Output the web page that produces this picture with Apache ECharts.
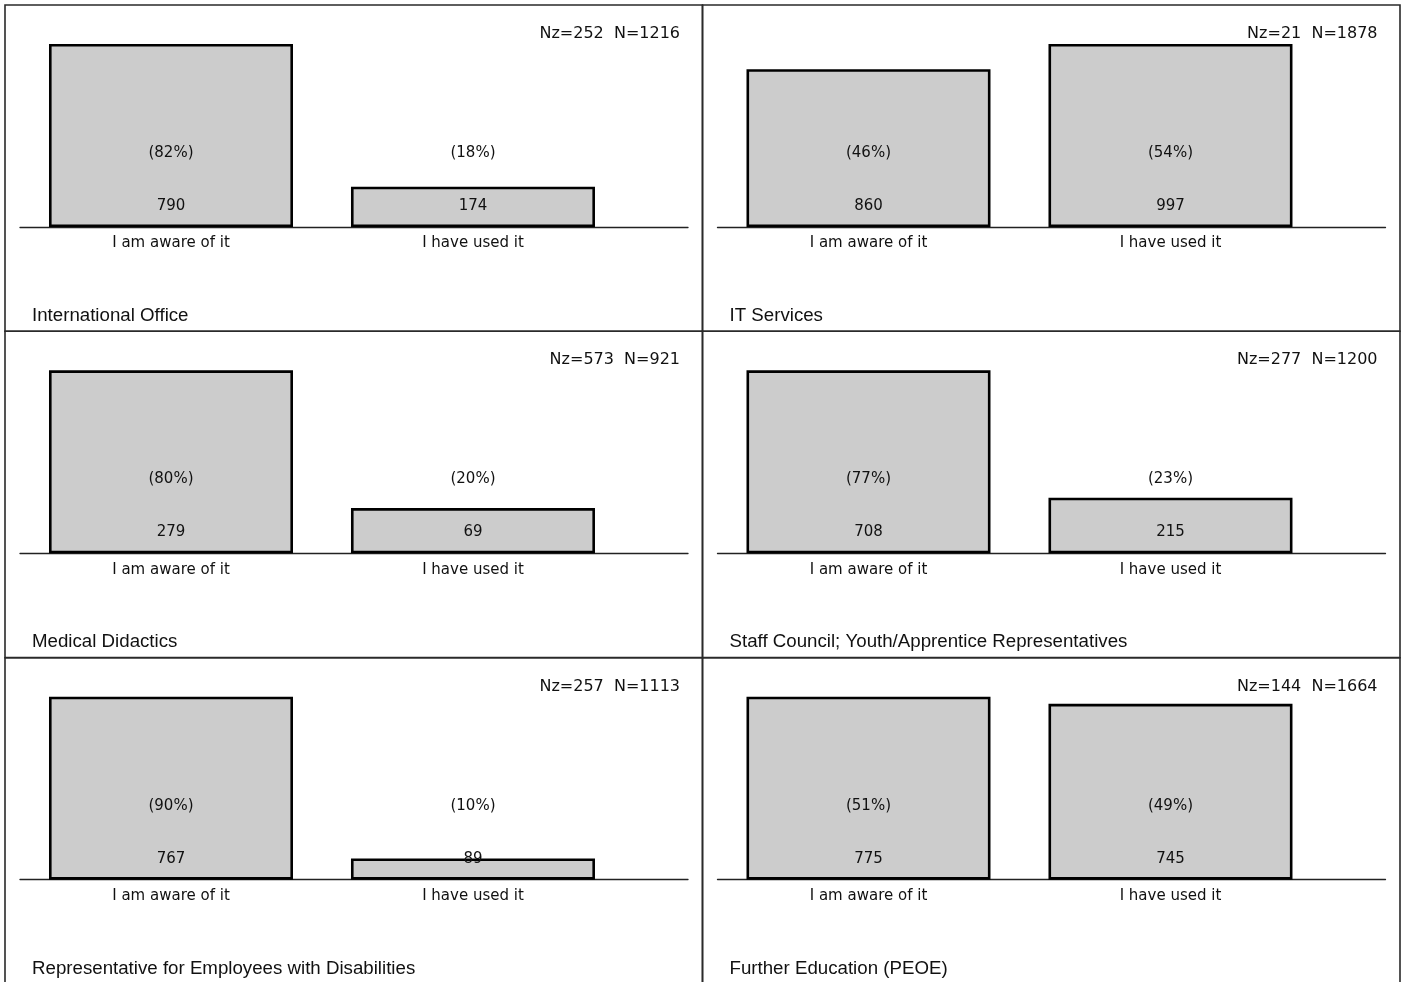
<!DOCTYPE html>
<html>
<head>
<meta charset="utf-8">
<style>
html,body{margin:0;padding:0;background:#fff;}
#chart{width:1404px;height:982px;}
</style>
<script src="https://cdn.jsdelivr.net/npm/echarts@6/dist/echarts.min.js"></script>
</head>
<body>
<div id="chart"></div>
<script>
// ---- data ----
var categories = ["I am aware of it", "I have used it"];
var panelNames = [
  "International Office",
  "IT Services",
  "Medical Didactics",
  "Staff Council; Youth/Apprentice Representatives",
  "Representative for Employees with Disabilities",
  "Further Education (PEOE)"
];
var countsIntl = [790, 174];
var countsIT = [860, 997];
var countsMed = [279, 69];
var countsStaff = [708, 215];
var countsDisab = [767, 89];
var countsFurther = [775, 745];
var pctIntl = [82, 18];
var pctIT = [46, 54];
var pctMed = [80, 20];
var pctStaff = [77, 23];
var pctDisab = [90, 10];
var pctFurther = [51, 49];
var nzValues = [252, 21, 573, 277, 257, 144];
var nValues = [1216, 1878, 921, 1200, 1113, 1664];

var counts = [countsIntl, countsIT, countsMed, countsStaff, countsDisab, countsFurther];
var pcts = [pctIntl, pctIT, pctMed, pctStaff, pctDisab, pctFurther];

// ---- layout ----
var colX = [5, 702.5];
var rowY = [5, 331.3, 657.7];
var PW = 697.5, PH = 326.3;

var chart = echarts.init(document.getElementById('chart'));
var grids = [], xAxes = [], yAxes = [], series = [], titles = [], graphics = [];

for (var i = 0; i < 6; i++) {
  var px = colX[i % 2], py = rowY[Math.floor(i / 2)];
  graphics.push({
    type: 'rect', silent: true, z: 100,
    shape: { x: px, y: py, width: PW, height: PH },
    style: { fill: null, stroke: '#2a2a2a', lineWidth: 1.6 }
  });
  grids.push({ left: px + 15, top: py + 39, width: 668, height: 183 });
  xAxes.push({
    gridIndex: i, type: 'value', min: 0.5, max: 2.712,
    splitLine: { show: false },
    axisLine: { show: true, onZero: false, lineStyle: { color: '#222', width: 1.3 } },
    axisTick: { show: true, inside: true, length: 5, customValues: [1, 2], lineStyle: { color: '#222' } },
    axisLabel: {
      show: true, customValues: [1, 2], margin: 9,
      fontFamily: 'DejaVu Sans', fontSize: 15, color: '#111',
      formatter: function (v) { return categories[Math.round(v) - 1]; }
    }
  });
  yAxes.push({
    gridIndex: i, type: 'value', min: 0, max: 'dataMax', show: false,
    splitLine: { show: false }
  });
  (function (idx) {
    series.push({
      type: 'bar', xAxisIndex: idx, yAxisIndex: idx,
      data: counts[idx].map(function (v, j) { return [j + 1, v]; }),
      barWidth: 244,
      itemStyle: { color: '#cccccc', borderColor: '#000', borderWidth: 2.6 },
      label: {
        show: true, position: 'insideBottom', distance: 11,
        formatter: function (p) {
          return '{p|(' + pcts[idx][p.dataIndex] + '%)}\n{n|' + counts[idx][p.dataIndex] + '}';
        },
        rich: {
          p: { fontFamily: 'DejaVu Sans', fontSize: 15, color: '#111', lineHeight: 86 },
          n: { fontFamily: 'DejaVu Sans', fontSize: 15, color: '#111', lineHeight: 20 }
        }
      },
      silent: true
    });
  })(i);
  titles.push({
    text: 'Nz=' + nzValues[i] + '  N=' + nValues[i],
    right: 1404 - (px + 675), top: py + 19, padding: 0,
    textStyle: { fontFamily: 'DejaVu Sans', fontSize: 16, fontWeight: 'normal', color: '#111', lineHeight: 20 }
  });
  titles.push({
    text: panelNames[i],
    left: px + 27, top: py + 300, padding: 0,
    textStyle: { fontFamily: 'Liberation Sans', fontSize: 18.7, fontWeight: 'normal', color: '#111', lineHeight: 22 }
  });
}

chart.setOption({
  animation: false,
  backgroundColor: '#ffffff',
  title: titles,
  grid: grids,
  xAxis: xAxes,
  yAxis: yAxes,
  series: series,
  graphic: graphics
});
</script>
</body>
</html>
